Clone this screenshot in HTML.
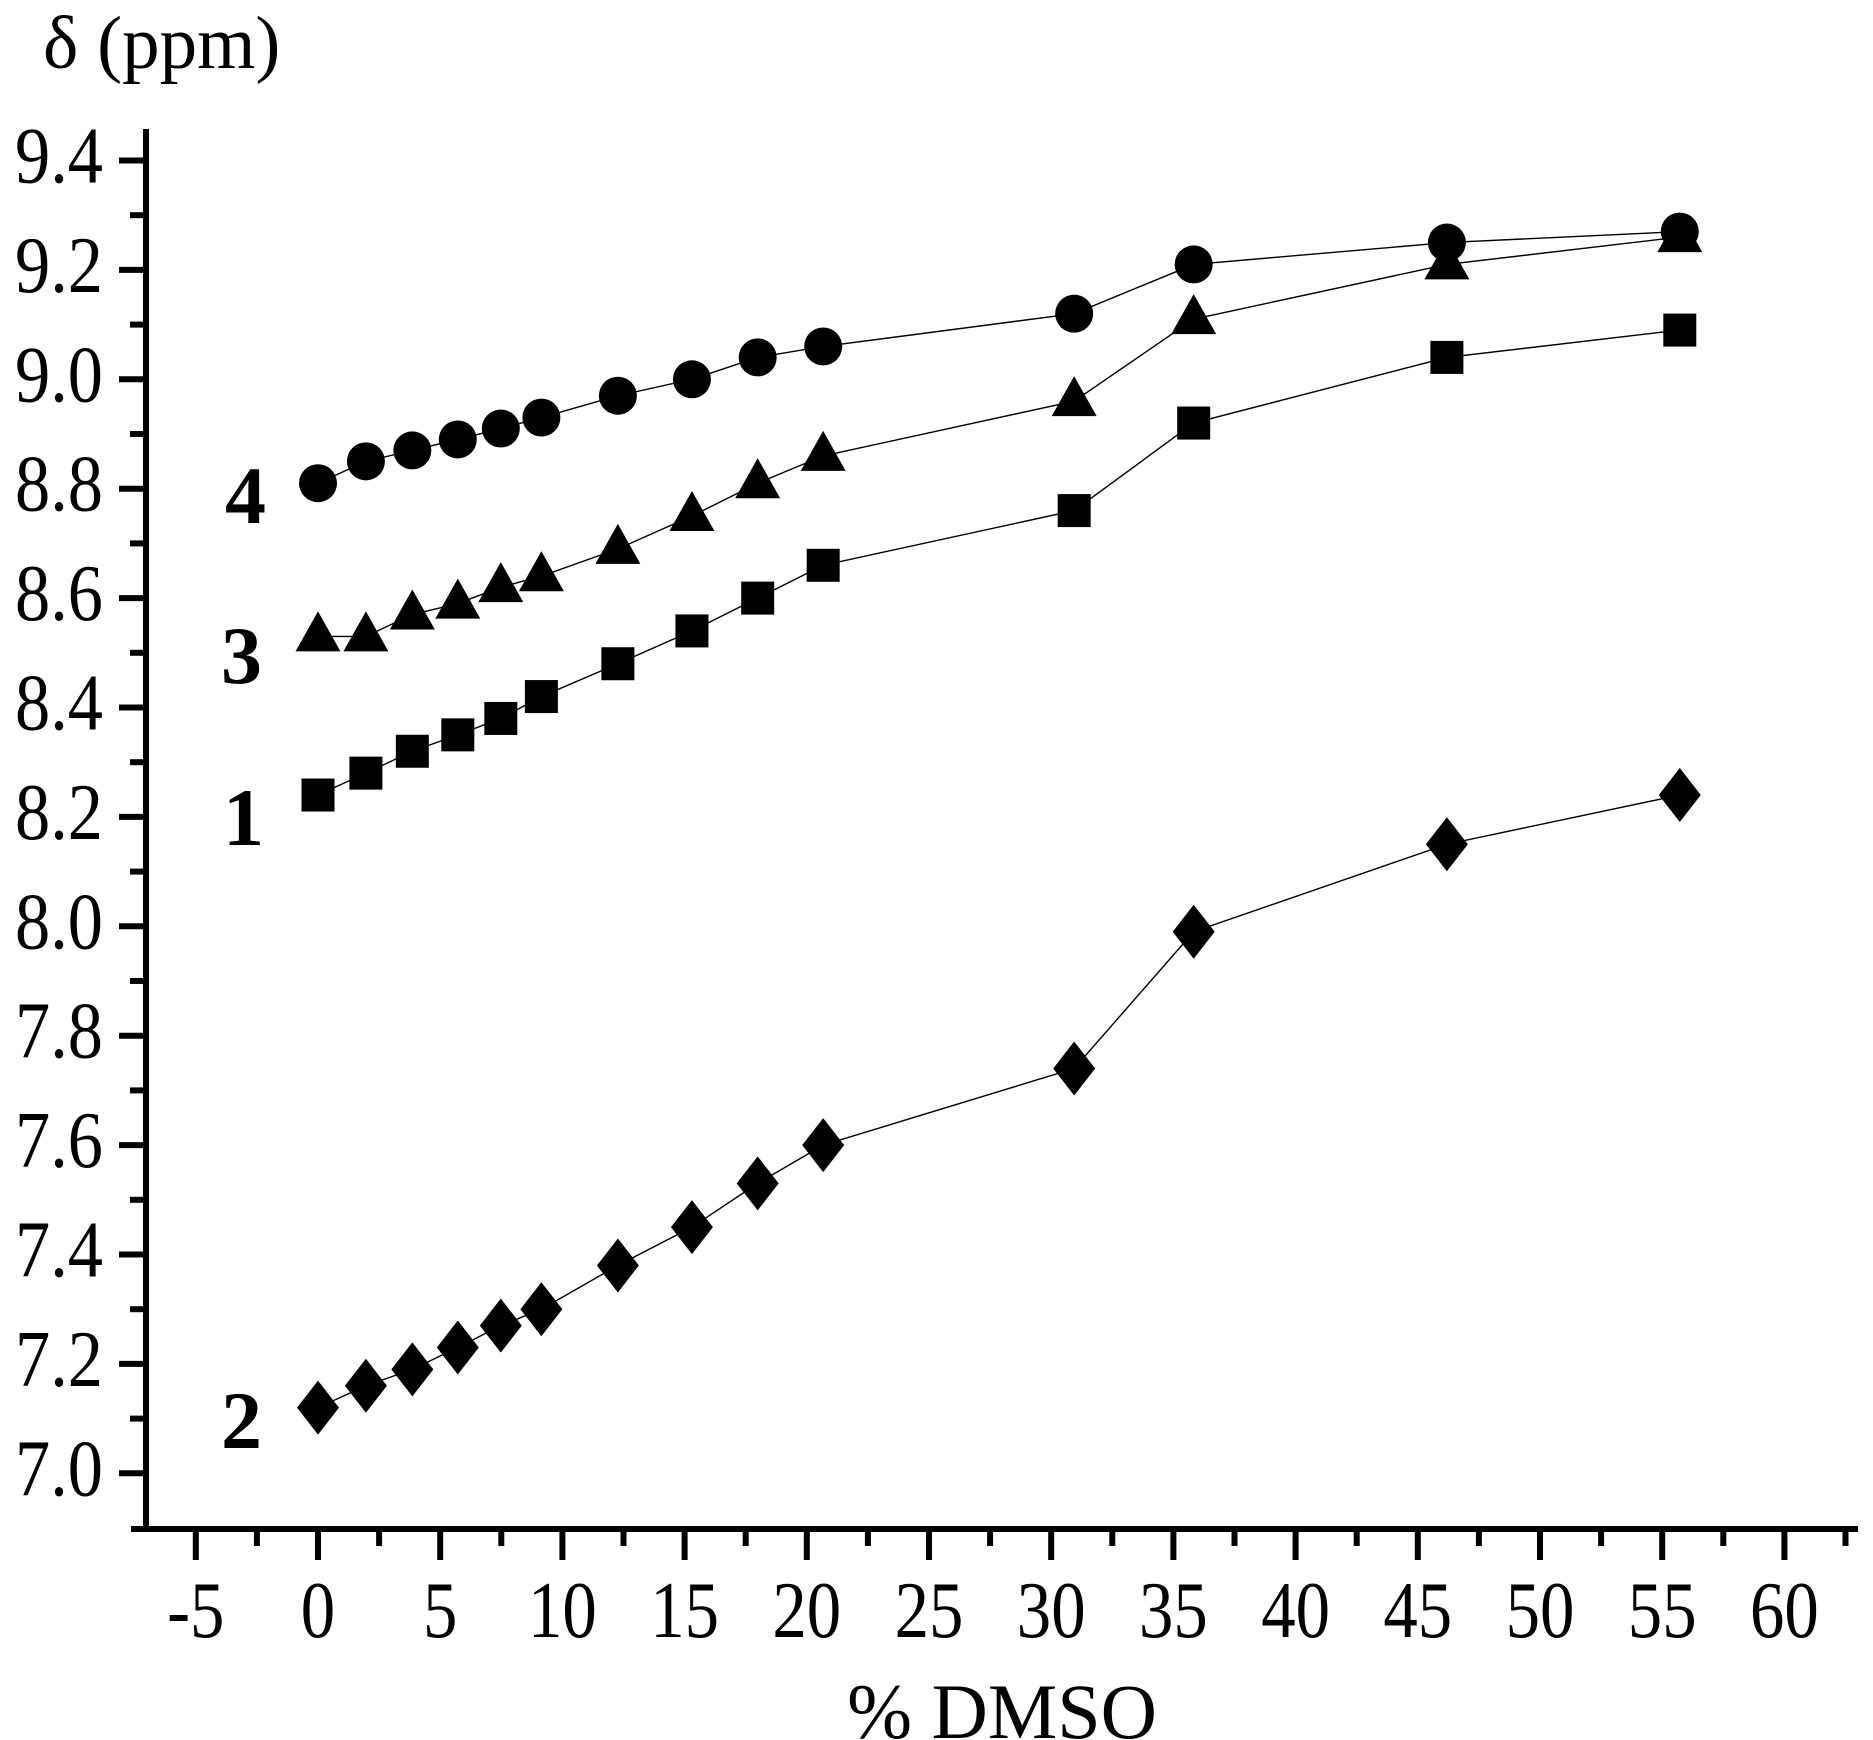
<!DOCTYPE html>
<html><head><meta charset="utf-8"><style>
html,body{margin:0;padding:0;background:#fff;width:1873px;height:1740px;overflow:hidden}
svg{display:block}
text{font-family:"Liberation Serif","Times New Roman",serif;fill:#000}
</style></head><body>
<svg id="s" width="1873" height="1740" viewBox="0 0 1873 1740" xmlns="http://www.w3.org/2000/svg">
<text x="43" y="68" font-size="75">δ (ppm)</text>
<text x="1002" y="1738" font-size="78" text-anchor="middle">% DMSO</text>
<g font-weight="bold" font-size="82">
<text x="225" y="523">4</text>
<text x="221" y="683">3</text>
<text x="223" y="845">1</text>
<text x="221" y="1448">2</text>
</g>
</svg>
<script>
(function(){
var s=document.getElementById('s'),NS='http://www.w3.org/2000/svg';
function el(t,a,txt){var e=document.createElementNS(NS,t);for(var k in a)e.setAttribute(k,a[k]);if(txt!=null)e.textContent=txt;s.appendChild(e);return e;}
function X(v){return 318+v*24.44;}
function Y(v){return 160.5+(9.4-v)/0.2*109.4;}
el('line',{x1:146,y1:129,x2:146,y2:1532,stroke:'#000','stroke-width':6});
el('line',{x1:131,y1:1529,x2:1858,y2:1529,stroke:'#000','stroke-width':6});
for(var i=0;i<=12;i++){var v=7+i*0.2,y=Y(v);
 el('line',{x1:119,y1:y,x2:146,y2:y,stroke:'#000','stroke-width':6});
 el('text',{x:0,y:0,'font-size':80,'text-anchor':'end',transform:'translate(103,'+(y+22)+') scale(0.88,1)'},v.toFixed(1));
 if(i<12){var ym=Y(v+0.1);el('line',{x1:130,y1:ym,x2:146,y2:ym,stroke:'#000','stroke-width':6});}
}
for(var v=-5;v<=60;v+=5){var x=X(v);
 el('line',{x1:x,y1:1529,x2:x,y2:1560,stroke:'#000','stroke-width':6});
 el('text',{x:0,y:0,'font-size':80,'text-anchor':'middle',transform:'translate('+x+',1637) scale(0.86,1)'},String(v));
}
for(var v=-2.5;v<=62.5;v+=5){var x=X(v);el('line',{x1:x,y1:1529,x2:x,y2:1546,stroke:'#000','stroke-width':6});}
var xs=[0,1.96,3.86,5.72,7.48,9.14,12.27,15.3,17.99,20.67,30.94,35.83,46.19,55.72];
var S={c:[8.81,8.85,8.87,8.89,8.91,8.93,8.97,9.00,9.04,9.06,9.12,9.21,9.25,9.27],
t:[8.53,8.53,8.57,8.59,8.62,8.64,8.69,8.75,8.81,8.86,8.96,9.11,9.21,9.26],
q:[8.24,8.28,8.32,8.35,8.38,8.42,8.48,8.54,8.60,8.66,8.76,8.92,9.04,9.09],
d:[7.12,7.16,7.19,7.23,7.27,7.30,7.38,7.45,7.53,7.60,7.74,7.99,8.15,8.24]};
for(var k in S){var pts=xs.map(function(x,i){return X(x)+','+Y(S[k][i]);}).join(' ');
 el('polyline',{points:pts,fill:'none',stroke:'#000','stroke-width':1.4});}
for(var k in S){for(var i=0;i<xs.length;i++){var x=X(xs[i]),y=Y(S[k][i]);
 if(k=='c')el('circle',{cx:x,cy:y,r:19,fill:'#000'});
 else if(k=='q')el('rect',{x:x-16.5,y:y-16.5,width:33,height:33,fill:'#000'});
 else if(k=='t')el('polygon',{points:(x)+','+(y-25)+' '+(x-22.5)+','+(y+15)+' '+(x+22.5)+','+(y+15),fill:'#000'});
 else el('polygon',{points:x+','+(y-27)+' '+(x+21)+','+y+' '+x+','+(y+27)+' '+(x-21)+','+y,fill:'#000'});
}}
})();
</script>
</body></html>
